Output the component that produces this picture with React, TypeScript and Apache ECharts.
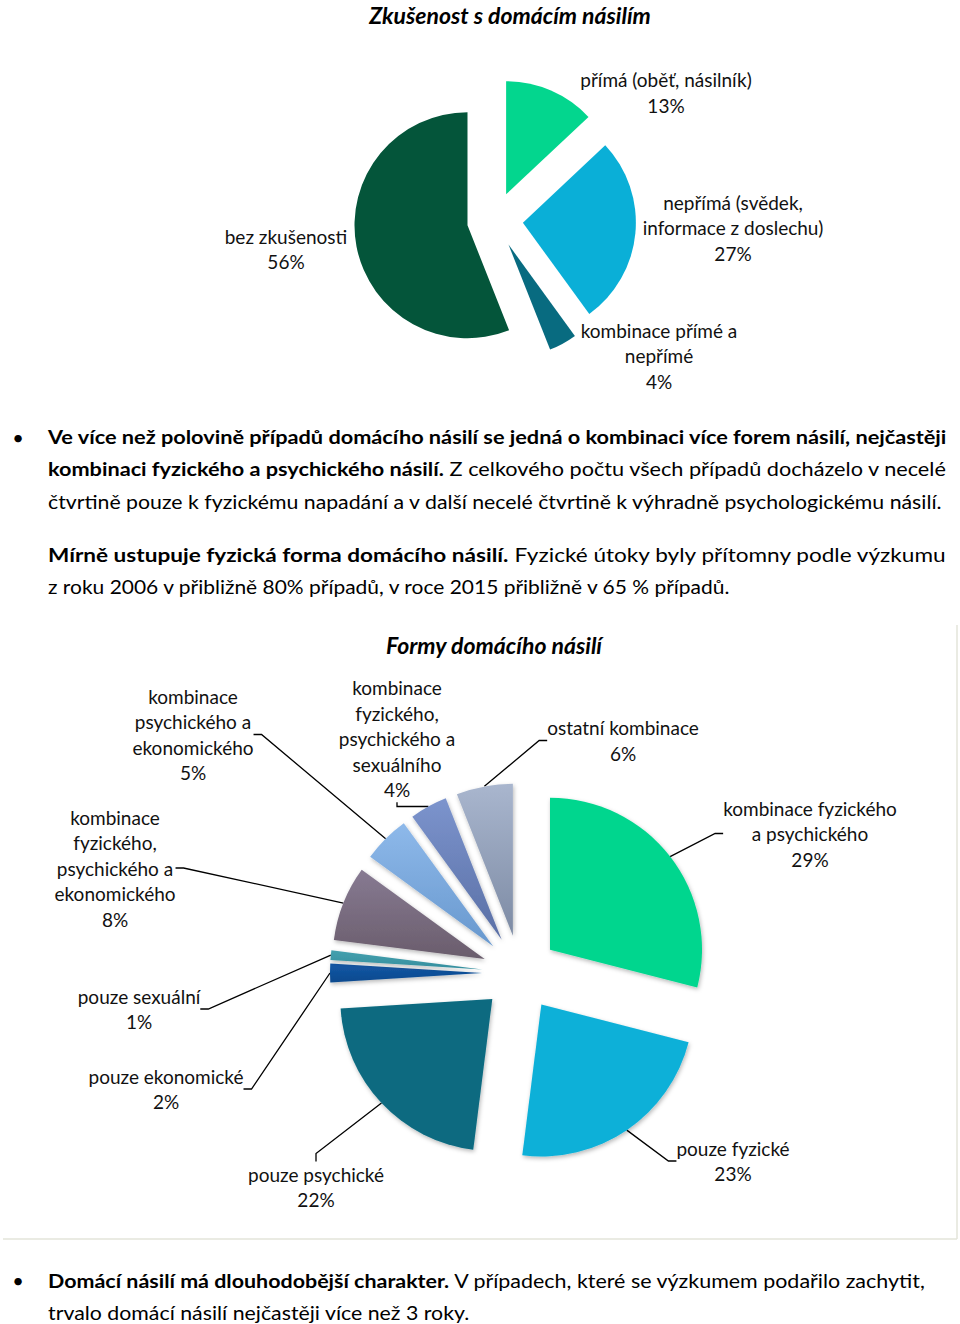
import React, { useEffect, useRef } from "react";
import * as echarts from "echarts";

// ---------- DATA ----------
const pie1Title = "Zkušenost s domácím násilím";
const pie1Names = [
  "přímá (oběť, násilník)",
  "nepřímá (svědek,\ninformace z doslechu)",
  "kombinace přímé a\nnepřímé",
  "bez zkušenosti",
];
const pie1Values = [13, 27, 4, 56];

const pie2Title = "Formy domácího násilí";
const pie2Names = [
  "kombinace fyzického\na psychického",
  "pouze fyzické",
  "pouze psychické",
  "pouze ekonomické",
  "pouze sexuální",
  "kombinace\nfyzického,\npsychického a\nekonomického",
  "kombinace\npsychického a\nekonomického",
  "kombinace\nfyzického,\npsychického a\nsexuálního",
  "ostatní kombinace",
];
const pie2Values = [29, 23, 22, 2, 1, 8, 5, 4, 6];

// Paragraph lines: [text, bold]
const para1Lines: [string, boolean][][] = [
  [["Ve více než polovině případů domácího násilí se jedná o kombinaci více forem násilí, nejčastěji", true]],
  [["kombinaci fyzického a psychického násilí.", true], [" Z celkového počtu všech případů docházelo v necelé", false]],
  [["čtvrtině pouze k fyzickému napadání a v další necelé čtvrtině k výhradně psychologickému násilí.", false]],
];
const para2Lines: [string, boolean][][] = [
  [["Mírně ustupuje fyzická forma domácího násilí.", true], [" Fyzické útoky byly přítomny podle výzkumu", false]],
  [["z roku 2006 v přibližně 80% případů, v roce 2015 přibližně v 65 % případů.", false]],
];
const para3Lines: [string, boolean][][] = [
  [["Domácí násilí má dlouhodobější charakter.", true], [" V případech, které se výzkumem podařilo zachytit,", false]],
  [["trvalo domácí násilí nejčastěji více než 3 roky.", false]],
];

// ---------- STYLE / LAYOUT ----------
const FONT = "Lato";
const LABEL_SIZE = 19;
const pie1Colors = ["#03D68E", "#0AAFD7", "#086B80", "#04553A"];
const pie2Colors: [string, string][] = [
  ["#03D68E", "#03D68E"],
  ["#0AB0D8", "#0AB0D8"],
  ["#096A80", "#096A80"],
  ["#1557A6", "#0B4A8E"],
  ["#44A0AE", "#358E9E"],
  ["#877A92", "#6A5D6C"],
  ["#8EB9EA", "#6898CE"],
  ["#7C94CD", "#5A6FA5"],
  ["#A9B6CE", "#7D8BA4"],
];
const pie1Layout = { center: [495, 220], radius: 113, explode: 28 };
const pie2Layout = { center: [520, 973], radius: 152, explode: 38 };
const pie1LabelPos = [[666, 92.5], [733, 227.5], [659, 355.5], [286, 249]];
const pie2LabelPos = [
  [810, 833.5], [733, 1161], [316, 1187], [166, 1089], [139, 1009],
  [115, 868], [193, 734.5], [397, 738.5], [623, 740.5],
];

type Lines = [string, boolean][][];

function buildExplodedPie(
  names: string[], values: number[], colors: any[], layout: any,
  labelPos: number[][], showLines: boolean, shadow: boolean
) {
  const total = values.reduce((a, b) => a + b, 0);
  let cum = 0;
  return values.map((v, i) => {
    const mid = ((cum + v / 2) / total) * Math.PI * 2;
    cum += v;
    const cx = layout.center[0] + layout.explode * Math.sin(mid);
    const cy = layout.center[1] - layout.explode * Math.cos(mid);
    const c = colors[i];
    const color = Array.isArray(c)
      ? { type: "linear", x: 0, y: 0, x2: 0, y2: 1, colorStops: [{ offset: 0, color: c[0] }, { offset: 1, color: c[1] }] }
      : c;
    return {
      type: "pie",
      center: [cx, cy],
      radius: layout.radius,
      startAngle: 90,
      clockwise: true,
      avoidLabelOverlap: false,
      silent: true,
      emphasis: { disabled: true },
      label: {
        show: true,
        position: "outside",
        formatter: (p: any) => `${p.name}\n${p.value}%`,
        color: "#111",
        fontFamily: FONT,
        fontSize: LABEL_SIZE,
        lineHeight: 25.5,
        align: "center",
      },
      labelLine: { show: showLines, length: 10, length2: 8, lineStyle: { color: "#000", width: 1.3 } },
      labelLayout: (p: any) =>
        p.dataIndex === i
          ? { x: labelPos[i][0], y: labelPos[i][1], align: "center", verticalAlign: "middle" }
          : {},
      data: values.map((vv, j) =>
        j === i
          ? {
              value: vv,
              name: names[j],
              itemStyle: shadow
                ? { color, shadowBlur: 4, shadowColor: "rgba(0,0,0,0.28)", shadowOffsetX: 1, shadowOffsetY: 2 }
                : { color },
            }
          : {
              value: vv,
              name: names[j],
              itemStyle: { color: "rgba(0,0,0,0)" },
              label: { show: false },
              labelLine: { show: false },
            }
      ),
    };
  });
}

function paragraphGraphics(lines: Lines, x: number, ys: number[], targets: number[], size: number) {
  const ctx = document.createElement("canvas").getContext("2d")!;
  return lines.map((segs, k) => {
    let w = 0;
    for (const [t, b] of segs) {
      ctx.font = `${b ? "bold " : ""}${size}px ${FONT}`;
      w += ctx.measureText(t).width;
    }
    const s = targets[k] / w;
    return {
      type: "text",
      x,
      y: ys[k],
      scaleX: s,
      silent: true,
      style: {
        text: segs.map(([t, b]) => `{${b ? "b" : "n"}|${t}}`).join(""),
        rich: {
          b: { fontWeight: "bold", fontSize: size, fontFamily: FONT, fill: "#000" },
          n: { fontWeight: "normal", fontSize: size, fontFamily: FONT, fill: "#000" },
        },
        fontSize: size,
        fontFamily: FONT,
        fill: "#000",
        verticalAlign: "middle",
      },
    };
  });
}

export default function App() {
  const ref = useRef<HTMLDivElement>(null);
  useEffect(() => {
    const chart = echarts.init(ref.current!, null, { renderer: "svg" });
    const graphics: any[] = [
      { type: "line", shape: { x1: 957, y1: 625, x2: 957, y2: 1239 }, style: { stroke: "#E3E5DA", lineWidth: 1.5 }, silent: true },
      { type: "line", shape: { x1: 3, y1: 1239, x2: 957, y2: 1239 }, style: { stroke: "#E3E5DA", lineWidth: 1.5 }, silent: true },
      {
        type: "text", x: 510, y: 15, silent: true,
        style: { text: pie1Title, fontFamily: FONT, fontSize: 23, fontWeight: "bold", fontStyle: "italic", fill: "#000", align: "center", verticalAlign: "middle" },
      },
      {
        type: "text", x: 494, y: 645, silent: true,
        style: { text: pie2Title, fontFamily: FONT, fontSize: 23, fontWeight: "bold", fontStyle: "italic", fill: "#000", align: "center", verticalAlign: "middle" },
      },
      { type: "text", x: 18, y: 437, silent: true, style: { text: "•", fontFamily: FONT, fontSize: 20, fill: "#000", align: "center", verticalAlign: "middle" } },
      { type: "text", x: 18, y: 1280, silent: true, style: { text: "•", fontFamily: FONT, fontSize: 20, fill: "#000", align: "center", verticalAlign: "middle" } },
      ...paragraphGraphics(para1Lines, 48, [437, 469, 501], [900, 900, 896], 19),
      ...paragraphGraphics(para2Lines, 48, [554, 586], [900, 685], 19),
      ...paragraphGraphics(para3Lines, 48, [1280, 1312], [879, 422], 19),
    ];
    chart.setOption({
      animation: false,
      backgroundColor: "#ffffff",
      graphic: graphics,
      series: [
        ...buildExplodedPie(pie1Names, pie1Values, pie1Colors, pie1Layout, pie1LabelPos, false, false),
        ...buildExplodedPie(pie2Names, pie2Values, pie2Colors, pie2Layout, pie2LabelPos, true, true),
      ],
    });
    return () => chart.dispose();
  }, []);
  return (
    <div
      ref={ref}
      style={{ position: "absolute", left: 0, top: 0, width: 960, height: 1324, background: "#fff" }}
    />
  );
}
